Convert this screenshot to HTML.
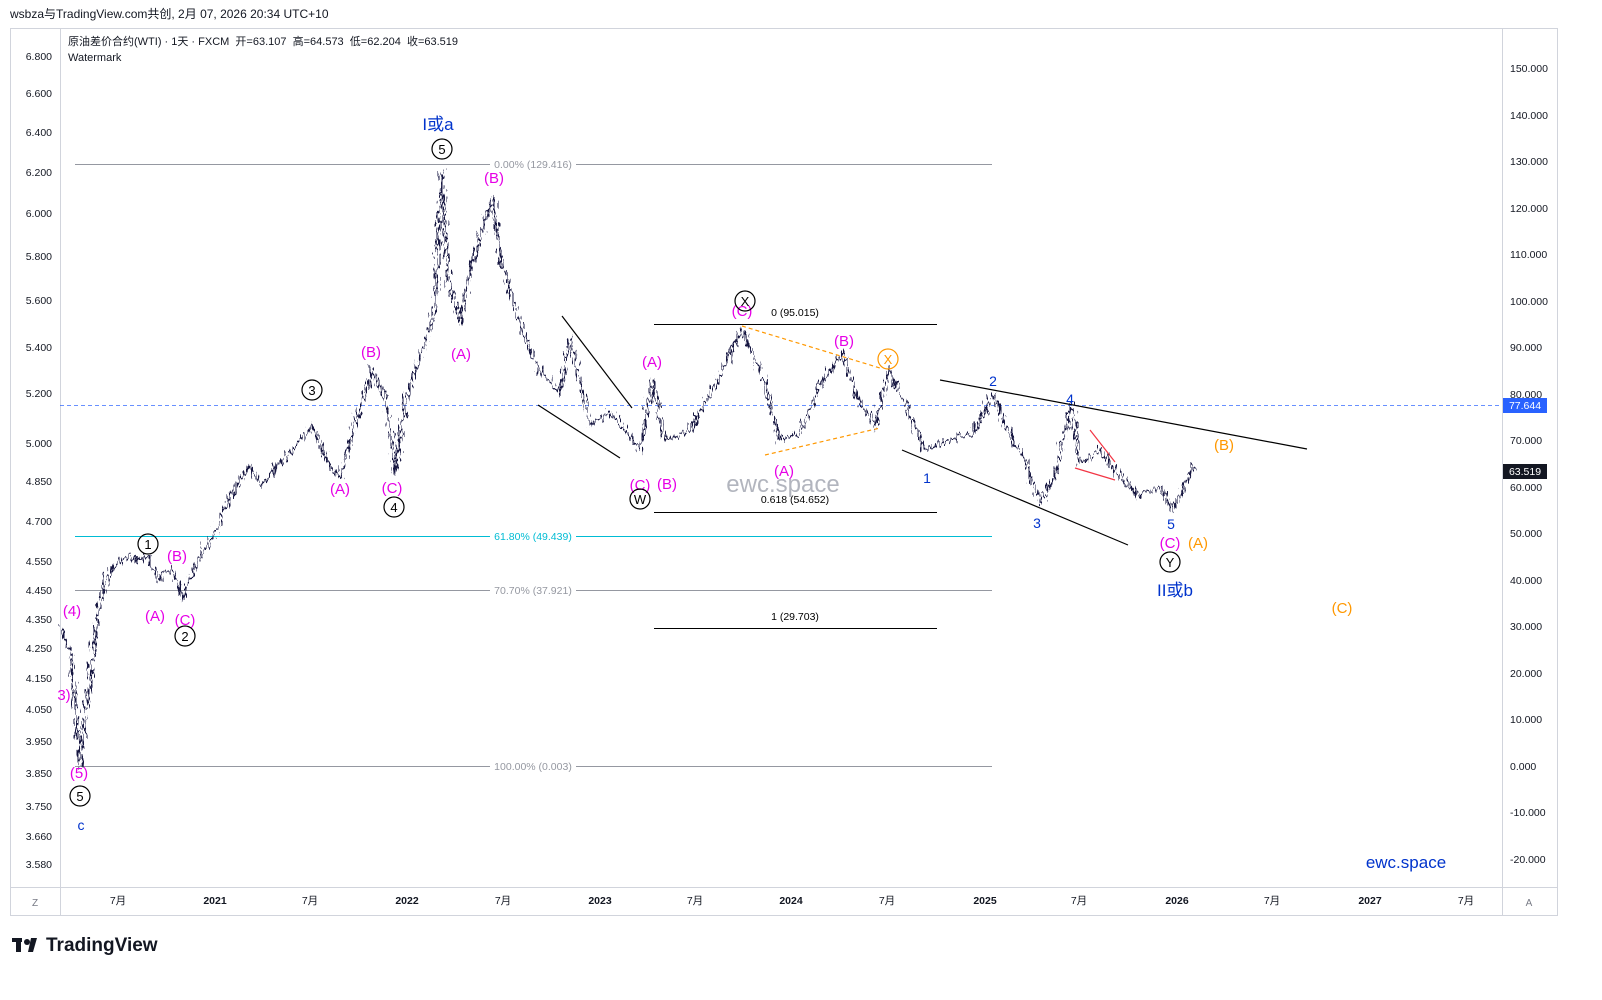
<!DOCTYPE html>
<html><head><meta charset="utf-8">
<style>
body{margin:0;background:#fff;width:1602px;height:995px;overflow:hidden;font-family:"Liberation Sans","Noto Sans CJK SC",sans-serif}
svg text{font-family:"Liberation Sans","Noto Sans CJK SC",sans-serif}
</style></head><body>
<svg width="1602" height="995" xmlns="http://www.w3.org/2000/svg">
<defs>
<filter id="jit" x="-5%" y="-10%" width="110%" height="120%">
<feTurbulence type="fractalNoise" baseFrequency="0.45 0.1" numOctaves="2" seed="3" result="n"/>
<feDisplacementMap in="SourceGraphic" in2="n" scale="16" xChannelSelector="R" yChannelSelector="G"/>
</filter>
</defs>
<rect width="1602" height="995" fill="#fff"/>
<text x="10" y="18" font-size="12" fill="#131722">wsbza与TradingView.com共创, 2月 07, 2026 20:34 UTC+10</text>
<rect x="10.5" y="28.5" width="1547" height="887" fill="none" stroke="#d1d4dc"/>
<line x1="60.5" y1="28" x2="60.5" y2="915" stroke="#d1d4dc"/>
<line x1="1502.5" y1="28" x2="1502.5" y2="915" stroke="#d1d4dc"/>
<line x1="10" y1="887.5" x2="1557" y2="887.5" stroke="#d1d4dc"/>
<text x="68" y="45" font-size="11" fill="#131722">原油差价合约(WTI) · 1天 · FXCM &#160;开=63.107 &#160;高=64.573 &#160;低=62.204 &#160;收=63.519</text>
<text x="68" y="61" font-size="11" fill="#131722">Watermark</text>
<g font-size="10.5" fill="#131722" text-anchor="end">
<text x="52" y="60">6.800</text><text x="52" y="97">6.600</text><text x="52" y="136">6.400</text><text x="52" y="176">6.200</text><text x="52" y="217">6.000</text><text x="52" y="260">5.800</text><text x="52" y="304">5.600</text><text x="52" y="351">5.400</text><text x="52" y="397">5.200</text><text x="52" y="447">5.000</text><text x="52" y="485">4.850</text><text x="52" y="525">4.700</text><text x="52" y="565">4.550</text><text x="52" y="594">4.450</text><text x="52" y="623">4.350</text><text x="52" y="652">4.250</text><text x="52" y="682">4.150</text><text x="52" y="713">4.050</text><text x="52" y="745">3.950</text><text x="52" y="777">3.850</text><text x="52" y="810">3.750</text><text x="52" y="840">3.660</text><text x="52" y="868">3.580</text>
</g>
<g font-size="10.5" fill="#131722">
<text x="1510" y="72">150.000</text><text x="1510" y="119">140.000</text><text x="1510" y="165">130.000</text><text x="1510" y="212">120.000</text><text x="1510" y="258">110.000</text><text x="1510" y="305">100.000</text><text x="1510" y="351">90.000</text><text x="1510" y="398">80.000</text><text x="1510" y="444">70.000</text><text x="1510" y="491">60.000</text><text x="1510" y="537">50.000</text><text x="1510" y="584">40.000</text><text x="1510" y="630">30.000</text><text x="1510" y="677">20.000</text><text x="1510" y="723">10.000</text><text x="1510" y="770">0.000</text><text x="1510" y="816">-10.000</text><text x="1510" y="863">-20.000</text>
</g>
<g font-size="10.5" fill="#131722" text-anchor="middle">
<text x="118" y="904">7月</text><text x="215" y="904" font-weight="bold">2021</text><text x="310" y="904">7月</text><text x="407" y="904" font-weight="bold">2022</text><text x="503" y="904">7月</text><text x="600" y="904" font-weight="bold">2023</text><text x="695" y="904">7月</text><text x="791" y="904" font-weight="bold">2024</text><text x="887" y="904">7月</text><text x="985" y="904" font-weight="bold">2025</text><text x="1079" y="904">7月</text><text x="1177" y="904" font-weight="bold">2026</text><text x="1272" y="904">7月</text><text x="1370" y="904" font-weight="bold">2027</text><text x="1466" y="904">7月</text>
</g>
<text x="35" y="906" font-size="10" fill="#787b86" text-anchor="middle">Z</text>
<text x="1529" y="906" font-size="10" fill="#787b86" text-anchor="middle">A</text>
<g stroke-width="1">
<line x1="75" y1="164.5" x2="992" y2="164.5" stroke="#9598a1"/>
<line x1="75" y1="536.5" x2="992" y2="536.5" stroke="#00bcd4"/>
<line x1="75" y1="590.5" x2="992" y2="590.5" stroke="#9598a1"/>
<line x1="75" y1="766.5" x2="992" y2="766.5" stroke="#9598a1"/>
<line x1="654" y1="324.5" x2="937" y2="324.5" stroke="#000"/>
<line x1="654" y1="512.5" x2="937" y2="512.5" stroke="#000"/>
<line x1="654" y1="628.5" x2="937" y2="628.5" stroke="#000"/>
<line x1="60" y1="405.5" x2="1502" y2="405.5" stroke="#2962ff" stroke-dasharray="4,3" opacity=".7"/>
</g>
<g font-size="10.5" text-anchor="middle">
<rect x="490" y="157" width="86" height="13" fill="#fff"/><text x="533" y="168" fill="#9598a1">0.00% (129.416)</text>
<rect x="490" y="529" width="86" height="13" fill="#fff"/><text x="533" y="540" fill="#00bcd4">61.80% (49.439)</text>
<rect x="490" y="583" width="86" height="13" fill="#fff"/><text x="533" y="594" fill="#9598a1">70.70% (37.921)</text>
<rect x="490" y="759" width="86" height="13" fill="#fff"/><text x="533" y="770" fill="#9598a1">100.00% (0.003)</text>
<text x="795" y="316" fill="#000">0 (95.015)</text>
<text x="795" y="503" fill="#000">0.618 (54.652)</text>
<text x="795" y="620" fill="#000">1 (29.703)</text>
</g>
<g stroke="#000" stroke-width="1.2">
<line x1="940" y1="380" x2="1307" y2="449"/>
<line x1="902" y1="450" x2="1128" y2="545"/>
<line x1="538" y1="405" x2="620" y2="458"/>
<line x1="562" y1="316" x2="632" y2="408"/>
</g>
<g stroke="#ff9800" stroke-width="1.2" stroke-dasharray="4,3">
<line x1="742" y1="326" x2="880" y2="368"/>
<line x1="765" y1="455" x2="880" y2="428"/>
</g>
<g stroke="#f23645" stroke-width="1.2">
<line x1="1090" y1="430" x2="1115" y2="462"/>
<line x1="1075" y1="468" x2="1115" y2="480"/>
</g>
<text x="783" y="492" font-size="24" fill="#b2b5be" text-anchor="middle">ewc.space</text>
<g fill="none" stroke="#131340" stroke-width="2" filter="url(#jit)">
<polyline points="62,626 66,640 70,650 73,680 76,710 78,740 80,766 83,730 86,710 89,690 92,664 96,630 100,603 105,585 110,571 117,563 125,557 136,560 148,557 154,570 160,580 166,572 172,571 178,585 183,598 191,575 200,557 207,545 215,533 222,515 230,496 240,480 250,464 256,478 262,487 270,475 280,462 290,454 300,440 312,426 321,447 330,468 335,472 340,477 350,440 360,408 366,390 372,370 378,384 385,394 390,430 395,473 400,440 405,403 412,380 420,357 428,335 435,310 438,240 442,170 445,230 448,277 454,300 460,324 466,290 472,265 478,245 485,220 492,198 496,226 500,254 510,290 520,324 530,350 540,370 550,382 560,394 565,365 570,338 580,382 590,426 600,418 610,412 625,431 640,450 646,415 652,380 658,410 665,440 677,436 690,431 705,403 720,375 731,350 742,329 751,350 760,370 770,405 780,440 790,436 800,431 810,408 820,384 832,368 843,352 851,378 860,403 868,415 875,426 882,398 888,370 896,386 905,403 915,426 925,450 937,445 950,440 962,436 975,431 984,412 993,394 1001,415 1010,436 1017,447 1025,459 1032,480 1040,501 1047,489 1055,477 1063,440 1072,403 1076,433 1080,464 1090,457 1100,450 1110,463 1120,477 1130,486 1140,496 1150,491 1160,487 1166,498 1172,510 1178,498 1185,487 1190,475 1195,464"/>
</g>
<rect x="1503" y="398" width="44" height="15" fill="#2962ff"/><text x="1525" y="409" font-size="10.5" fill="#fff" text-anchor="middle">77.644</text>
<rect x="1503" y="464" width="44" height="15" fill="#131722"/><text x="1525" y="475" font-size="10.5" fill="#fff" text-anchor="middle">63.519</text>
<g font-size="15" text-anchor="middle" fill="#e600e6">
<text x="72" y="616">(4)</text><text x="64" y="700">3)</text><text x="79" y="778">(5)</text>
<text x="155" y="621">(A)</text><text x="177" y="561">(B)</text><text x="185" y="625">(C)</text>
<text x="340" y="494">(A)</text><text x="371" y="357">(B)</text><text x="392" y="493">(C)</text>
<text x="461" y="359">(A)</text><text x="494" y="183">(B)</text>
<text x="652" y="367">(A)</text><text x="640" y="490">(C)</text><text x="667" y="489">(B)</text>
<text x="742" y="316">(C)</text><text x="784" y="476">(A)</text><text x="844" y="346">(B)</text>
<text x="1170" y="548">(C)</text>
</g>
<g font-size="15" text-anchor="middle" fill="#ff9800">
<text x="1198" y="548">(A)</text><text x="1224" y="450">(B)</text><text x="1342" y="613">(C)</text>
</g>
<g font-size="14" text-anchor="middle" fill="#0033cc">
<text x="81" y="830">c</text><text x="927" y="483">1</text><text x="993" y="386">2</text>
<text x="1037" y="528">3</text><text x="1070" y="404">4</text><text x="1171" y="529">5</text>
<text x="438" y="130" font-size="17">I或a</text><text x="1175" y="596" font-size="17">II或b</text>
<text x="1406" y="868" font-size="17">ewc.space</text>
</g>
<g font-size="13" text-anchor="middle" fill="#000" stroke-width="1.2">
<circle cx="80" cy="796" r="10" fill="none" stroke="#000"/><text x="80" y="801">5</text>
<circle cx="148" cy="544" r="10" fill="none" stroke="#000"/><text x="148" y="549">1</text>
<circle cx="185" cy="636" r="10" fill="none" stroke="#000"/><text x="185" y="641">2</text>
<circle cx="312" cy="390" r="10" fill="none" stroke="#000"/><text x="312" y="395">3</text>
<circle cx="394" cy="507" r="10" fill="none" stroke="#000"/><text x="394" y="512">4</text>
<circle cx="442" cy="149" r="10" fill="none" stroke="#000"/><text x="442" y="154">5</text>
<circle cx="640" cy="499" r="10" fill="none" stroke="#000"/><text x="640" y="504">W</text>
<circle cx="745" cy="301" r="10" fill="none" stroke="#000"/><text x="745" y="306">X</text>
<circle cx="1170" cy="562" r="10" fill="none" stroke="#000"/><text x="1170" y="567">Y</text>
<circle cx="888" cy="359" r="10" fill="none" stroke="#ff9800"/><text x="888" y="364" fill="#ff9800">X</text>
</g>
<g transform="translate(12,936)"><rect x="0" y="2" width="10" height="4" fill="#131722"/><rect x="4" y="2" width="5" height="14" fill="#131722"/><circle cx="15" cy="6" r="3" fill="#131722"/><polygon points="19,2 25,2 21,16 16,16" fill="#131722"/>
<text x="34" y="15" font-size="19" font-weight="bold" fill="#131722">TradingView</text></g>
</svg>
</body></html>
